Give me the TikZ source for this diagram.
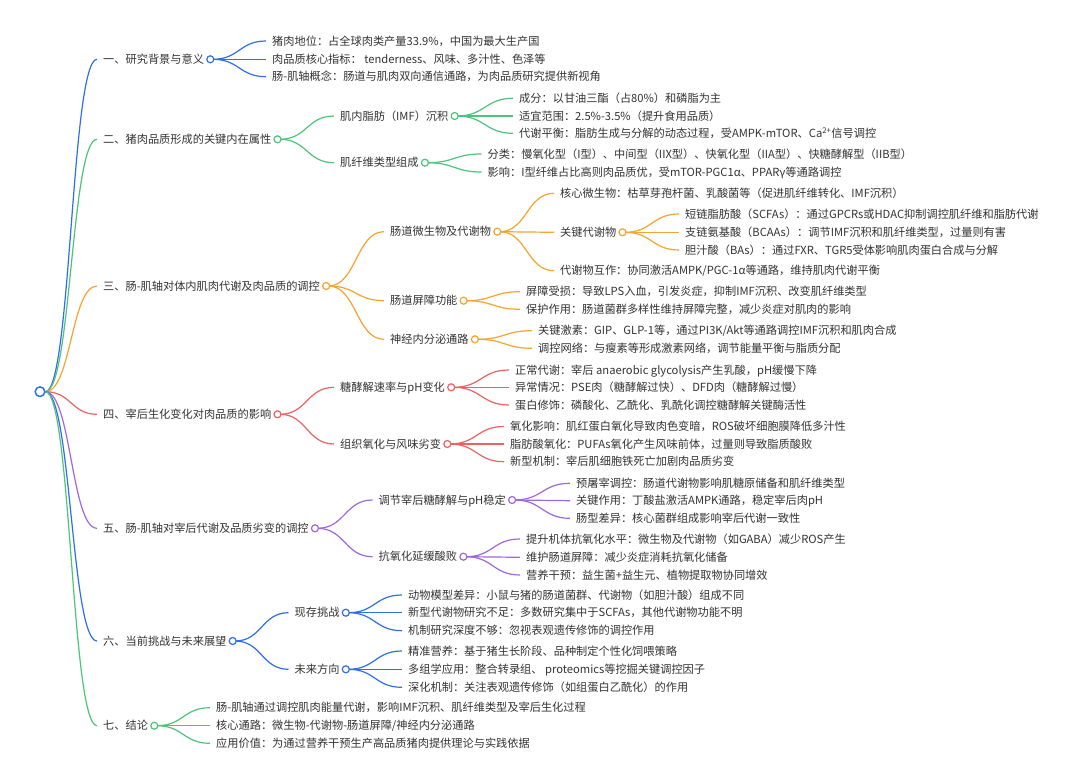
\documentclass[tikz,border=0pt]{standalone}
\usepackage{fontspec}
\setmainfont{Noto Sans CJK SC}
\usetikzlibrary{calc}
\definecolor{cb}{RGB}{45,111,232}
\definecolor{cg}{RGB}{76,196,124}
\definecolor{co}{RGB}{245,164,50}
\definecolor{cr}{RGB}{235,98,98}
\definecolor{cp}{RGB}{160,102,222}
\definecolor{tx}{RGB}{51,51,51}
\begin{document}
\begin{tikzpicture}[x=1pt,y=-1pt,
  font=\fontsize{11.2}{13}\selectfont,
  txt/.style={anchor=west, inner sep=0pt, text=tx, text height=9.6pt, text depth=1.4pt},
  dot/.style={circle, draw=#1, fill=white, line width=1.2pt, minimum size=7pt, inner sep=0pt, anchor=west},
  rootdot/.style={circle, draw=cb, fill=white, line width=1.3pt, minimum size=9.5pt, inner sep=0pt},
  mm/.style={to path={let \p1=(\tikztostart), \p2=(\tikztotarget) in
     .. controls (\x1/2+\x2/2,\y1) and (\x1/2+\x2/2,\y2) .. (\tikztotarget)}},
  br/.style={draw=#1, line width=1.2pt, mm}]
\useasboundingbox (0,0) rectangle (1080,784);
\fill[white] (0,0) rectangle (1080,784);

% ---------- nodes ----------
\node[txt] (A) at (103,59.3) {一、研究背景与意义};
\node[txt] (B) at (103,139.3) {二、猪肉品质形成的关键内在属性};
\node[txt] (C) at (103,286) {三、肠-肌轴对体内肌肉代谢及肉品质的调控};
\node[txt] (D) at (103,414.3) {四、宰后生化变化对肉品质的影响};
\node[txt] (E) at (103,528.3) {五、肠-肌轴对宰后代谢及品质劣变的调控};
\node[txt] (F) at (103,641) {六、当前挑战与未来展望};
\node[txt] (G) at (103,725.7) {七、结论};

% 一
\node[txt] (A1) at (272,41) {猪肉地位：占全球肉类产量33.9\%，中国为最大生产国};
\node[txt] (A2) at (272,59.3) {肉品质核心指标： tenderness、风味、多汁性、色泽等};
\node[txt] (A3) at (272,76.7) {肠-肌轴概念：肠道与肌肉双向通信通路，为肉品质研究提供新视角};
% 二
\node[txt] (B1) at (340,116) {肌内脂肪（IMF）沉积};
\node[txt] (B2) at (340,162.7) {肌纤维类型组成};
\node[txt] (B11) at (519,98.3) {成分：以甘油三酯（占80\%）和磷脂为主};
\node[txt] (B12) at (519,116) {适宜范围：2.5\%-3.5\%（提升食用品质）};
\node[txt] (B13) at (519,133.3) {代谢平衡：脂肪生成与分解的动态过程，受AMPK-mTOR、Ca\textsuperscript{2+}信号调控};
\node[txt] (B21) at (487.5,154) {分类：慢氧化型（I型）、中间型（IIX型）、快氧化型（IIA型）、快糖酵解型（IIB型）};
\node[txt] (B22) at (487.5,172) {影响：I型纤维占比高则肉品质优，受mTOR-PGC1α、PPARγ等通路调控};
% 三
\node[txt] (C1) at (390,231.7) {肠道微生物及代谢物};
\node[txt] (C2) at (390,300.7) {肠道屏障功能};
\node[txt] (C3) at (390,339.3) {神经内分泌通路};
\node[txt] (C11) at (560,193.3) {核心微生物：枯草芽孢杆菌、乳酸菌等（促进肌纤维转化、IMF沉积）};
\node[txt] (C12) at (560,232.3) {关键代谢物};
\node[txt] (C13) at (560,270.7) {代谢物互作：协同激活AMPK/PGC-1α等通路，维持肌肉代谢平衡};
\node[txt] (C121) at (685,214) {短链脂肪酸（SCFAs）：通过GPCRs或HDAC抑制调控肌纤维和脂肪代谢};
\node[txt] (C122) at (685,232.3) {支链氨基酸（BCAAs）：调节IMF沉积和肌纤维类型，过量则有害};
\node[txt] (C123) at (685,250) {胆汁酸（BAs）：通过FXR、TGR5受体影响肌肉蛋白合成与分解};
\node[txt] (C21) at (526,291.7) {屏障受损：导致LPS入血，引发炎症，抑制IMF沉积、改变肌纤维类型};
\node[txt] (C22) at (526,309.3) {保护作用：肠道菌群多样性维持屏障完整，减少炎症对肌肉的影响};
\node[txt] (C31) at (538,330.7) {关键激素：GIP、GLP-1等，通过PI3K/Akt等通路调控IMF沉积和肌肉合成};
\node[txt] (C32) at (538,348.3) {调控网络：与瘦素等形成激素网络，调节能量平衡与脂质分配};
% 四
\node[txt] (D1) at (340,387.3) {糖酵解速率与pH变化};
\node[txt] (D2) at (340,444) {组织氧化与风味劣变};
\node[txt] (D11) at (515,370) {正常代谢：宰后 anaerobic glycolysis产生乳酸，pH缓慢下降};
\node[txt] (D12) at (515,387.3) {异常情况：PSE肉（糖酵解过快）、DFD肉（糖酵解过慢）};
\node[txt] (D13) at (515,405) {蛋白修饰：磷酸化、乙酰化、乳酰化调控糖酵解关键酶活性};
\node[txt] (D21) at (510,426.5) {氧化影响：肌红蛋白氧化导致肉色变暗，ROS破坏细胞膜降低多汁性};
\node[txt] (D22) at (510,444) {脂肪酸氧化：PUFAs氧化产生风味前体，过量则导致脂质酸败};
\node[txt] (D23) at (510,461.7) {新型机制：宰后肌细胞铁死亡加剧肉品质劣变};
% 五
\node[txt] (E1) at (378.5,500) {调节宰后糖酵解与pH稳定};
\node[txt] (E2) at (378.5,556.7) {抗氧化延缓酸败};
\node[txt] (E11) at (576,483.3) {预屠宰调控：肠道代谢物影响肌糖原储备和肌纤维类型};
\node[txt] (E12) at (576,500.7) {关键作用：丁酸盐激活AMPK通路，稳定宰后肉pH};
\node[txt] (E13) at (576,518.3) {肠型差异：核心菌群组成影响宰后代谢一致性};
\node[txt] (E21) at (526,539) {提升机体抗氧化水平：微生物及代谢物（如GABA）减少ROS产生};
\node[txt] (E22) at (526,557.3) {维护肠道屏障：减少炎症消耗抗氧化储备};
\node[txt] (E23) at (526,575) {营养干预：益生菌+益生元、植物提取物协同增效};
% 六
\node[txt] (F1) at (294.5,612.7) {现存挑战};
\node[txt] (F2) at (294.5,669.3) {未来方向};
\node[txt] (F11) at (408,595) {动物模型差异：小鼠与猪的肠道菌群、代谢物（如胆汁酸）组成不同};
\node[txt] (F12) at (408,612.7) {新型代谢物研究不足：多数研究集中于SCFAs，其他代谢物功能不明};
\node[txt] (F13) at (408,630.7) {机制研究深度不够：忽视表观遗传修饰的调控作用};
\node[txt] (F21) at (408,651) {精准营养：基于猪生长阶段、品种制定个性化饲喂策略};
\node[txt] (F22) at (408,669.3) {多组学应用：整合转录组、 proteomics等挖掘关键调控因子};
\node[txt] (F23) at (408,687.3) {深化机制：关注表观遗传修饰（如组蛋白乙酰化）的作用};
% 七
\node[txt] (G1) at (216,707.7) {肠-肌轴通过调控肌肉能量代谢，影响IMF沉积、肌纤维类型及宰后生化过程};
\node[txt] (G2) at (216,725.7) {核心通路：微生物-代谢物-肠道屏障/神经内分泌通路};
\node[txt] (G3) at (216,743.3) {应用价值：为通过营养干预生产高品质猪肉提供理论与实践依据};

% ---------- connectors ----------
\node[rootdot] (R) at (40,391.7) {};
\draw[br=cb] (R.east) to ([xshift=-6pt]A.west);
\draw[br=cg] (R.east) to ([xshift=-6pt]B.west);
\draw[br=co] (R.east) to ([xshift=-6pt]C.west);
\draw[br=cr] (R.east) to ([xshift=-6pt]D.west);
\draw[br=cp] (R.east) to ([xshift=-6pt]E.west);
\draw[br=cb] (R.east) to ([xshift=-6pt]F.west);
\draw[br=cg] (R.east) to ([xshift=-6pt]G.west);
\node[rootdot] at (R) {};

% 一
\foreach \k in {1,2,3} \draw[br=cb] ($(A.east)+(8.5,0)$) to ([xshift=-6pt]A\k.west);
\node[dot=cb] (Ac) at ([xshift=2pt]A.east) {};
% 二
\foreach \k in {1,2} \draw[br=cg] ($(B.east)+(8.5,0)$) to ([xshift=-6pt]B\k.west);
\node[dot=cg] (Bc) at ([xshift=2pt]B.east) {};
\foreach \k in {1,2,3} \draw[br=cg] ($(B1.east)+(8.5,0)$) to ([xshift=-6pt]B1\k.west);
\node[dot=cg] (B1c) at ([xshift=2pt]B1.east) {};
\foreach \k in {1,2} \draw[br=cg] ($(B2.east)+(8.5,0)$) to ([xshift=-6pt]B2\k.west);
\node[dot=cg] (B2c) at ([xshift=2pt]B2.east) {};
% 三
\foreach \k in {1,2,3} \draw[br=co] ($(C.east)+(8.5,0)$) to ([xshift=-6pt]C\k.west);
\node[dot=co] (Cc) at ([xshift=2pt]C.east) {};
\foreach \k in {1,2,3} \draw[br=co] ($(C1.east)+(8.5,0)$) to ([xshift=-6pt]C1\k.west);
\node[dot=co] (C1c) at ([xshift=2pt]C1.east) {};
\foreach \k in {1,2,3} \draw[br=co] ($(C12.east)+(8.5,0)$) to ([xshift=-6pt]C12\k.west);
\node[dot=co] (C12c) at ([xshift=2pt]C12.east) {};
\foreach \k in {1,2} \draw[br=co] ($(C2.east)+(8.5,0)$) to ([xshift=-6pt]C2\k.west);
\node[dot=co] (C2c) at ([xshift=2pt]C2.east) {};
\foreach \k in {1,2} \draw[br=co] ($(C3.east)+(8.5,0)$) to ([xshift=-6pt]C3\k.west);
\node[dot=co] (C3c) at ([xshift=2pt]C3.east) {};
% 四
\foreach \k in {1,2} \draw[br=cr] ($(D.east)+(8.5,0)$) to ([xshift=-6pt]D\k.west);
\node[dot=cr] (Dc) at ([xshift=2pt]D.east) {};
\foreach \k in {1,2,3} \draw[br=cr] ($(D1.east)+(8.5,0)$) to ([xshift=-6pt]D1\k.west);
\node[dot=cr] (D1c) at ([xshift=2pt]D1.east) {};
\foreach \k in {1,2,3} \draw[br=cr] ($(D2.east)+(8.5,0)$) to ([xshift=-6pt]D2\k.west);
\node[dot=cr] (D2c) at ([xshift=2pt]D2.east) {};
% 五
\foreach \k in {1,2} \draw[br=cp] ($(E.east)+(8.5,0)$) to ([xshift=-6pt]E\k.west);
\node[dot=cp] (Ec) at ([xshift=2pt]E.east) {};
\foreach \k in {1,2,3} \draw[br=cp] ($(E1.east)+(8.5,0)$) to ([xshift=-6pt]E1\k.west);
\node[dot=cp] (E1c) at ([xshift=2pt]E1.east) {};
\foreach \k in {1,2,3} \draw[br=cp] ($(E2.east)+(8.5,0)$) to ([xshift=-6pt]E2\k.west);
\node[dot=cp] (E2c) at ([xshift=2pt]E2.east) {};
% 六
\foreach \k in {1,2} \draw[br=cb] ($(F.east)+(8.5,0)$) to ([xshift=-6pt]F\k.west);
\node[dot=cb] (Fc) at ([xshift=2pt]F.east) {};
\foreach \k in {1,2,3} \draw[br=cb] ($(F1.east)+(8.5,0)$) to ([xshift=-6pt]F1\k.west);
\node[dot=cb] (F1c) at ([xshift=2pt]F1.east) {};
\foreach \k in {1,2,3} \draw[br=cb] ($(F2.east)+(8.5,0)$) to ([xshift=-6pt]F2\k.west);
\node[dot=cb] (F2c) at ([xshift=2pt]F2.east) {};
% 七
\foreach \k in {1,2,3} \draw[br=cg] ($(G.east)+(8.5,0)$) to ([xshift=-6pt]G\k.west);
\node[dot=cg] (Gc) at ([xshift=2pt]G.east) {};
\end{tikzpicture}
\end{document}
